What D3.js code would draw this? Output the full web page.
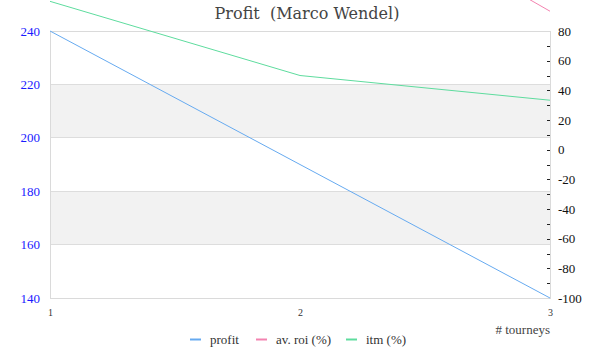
<!DOCTYPE html>
<html><head><meta charset="utf-8">
<script src="https://cdn.jsdelivr.net/npm/d3@7"></script>
<style>body{margin:0;background:#fff}svg{display:block}</style>
</head><body>
<script>
const tourneys = [1, 2, 3];
const profit = [240, 190, 140];
const avRoi = [480, 190, 93.33];
const itm = [100, 50, 33.33];
const leftTicks = [140, 160, 180, 200, 220, 240];
const rightTicks = [-100, -80, -60, -40, -20, 0, 20, 40, 60, 80];
const seriesNames = ["profit", "av. roi (%)", "itm (%)"];
const colors = ["#66aaf0", "#f383b0", "#5edc9e"];

const W = 600, H = 360;
const m = {l: 50, r: 550, t: 31, b: 298};
const font = "'Liberation Serif', 'DejaVu Serif', serif";
const svg = d3.select("body").append("svg").attr("width", W).attr("height", H)
  .style("font-family", font);

const x = d3.scaleLinear().domain([1, 3]).range([m.l, m.r]);
const yL = d3.scaleLinear().domain([140, 240]).range([m.b, m.t]);
const yR = d3.scaleLinear().domain([-100, 80]).range([m.b, m.t]);

// bands
[[160, 180], [200, 220]].forEach(([a, b]) => {
  svg.append("rect").attr("x", m.l).attr("width", m.r - m.l)
    .attr("y", yL(b)).attr("height", yL(a) - yL(b)).attr("fill", "#f2f2f2");
});
// grid lines
svg.append("g").selectAll("line").data([160, 180, 200, 220]).join("line")
  .attr("x1", m.l).attr("x2", m.r).attr("y1", d => yL(d)).attr("y2", d => yL(d))
  .attr("stroke", "#dddddd").attr("stroke-width", 1).attr("shape-rendering", "crispEdges");
// border
svg.append("rect").attr("x", m.l).attr("y", m.t).attr("width", m.r - m.l).attr("height", m.b - m.t)
  .attr("fill", "none").attr("stroke", "#dadada").attr("shape-rendering", "crispEdges");

// left axis
const gL = svg.append("g").attr("transform", `translate(${m.l},0)`)
  .call(d3.axisLeft(yL).tickValues(leftTicks).tickFormat(d => String(d)).tickSize(0).tickPadding(10));
gL.select(".domain").remove();
gL.attr("font-family", null);
gL.selectAll("text").attr("fill", "#1a1aff").style("font-size", "13px").style("font-family", font);

// right axis
const gR = svg.append("g").attr("transform", `translate(${m.r},0)`)
  .call(d3.axisRight(yR).tickValues(rightTicks).tickFormat(d => String(d)).tickSize(0).tickPadding(8));
gR.select(".domain").remove();
gR.attr("font-family", null);
gR.selectAll("text").attr("fill", "#111").style("font-size", "13px").style("font-family", font);
svg.append("g").selectAll("line").data(d3.range(-90, 80, 10)).join("line")
  .attr("x1", m.r - 3).attr("x2", m.r).attr("y1", d => Math.round(yR(d)) + 0.5).attr("y2", d => Math.round(yR(d)) + 0.5)
  .attr("stroke", "#222");

// x axis
const gX = svg.append("g").attr("transform", `translate(0,${m.b})`)
  .call(d3.axisBottom(x).tickValues(tourneys).tickFormat(d => String(d)).tickSize(0).tickPadding(11));
gX.select(".domain").remove();
gX.attr("font-family", null);
gX.selectAll("text").attr("fill", "#333").style("font-size", "10px").style("font-family", font);
svg.append("text").attr("x", m.r).attr("y", 334).attr("text-anchor", "end")
  .attr("fill", "#444").style("font-size", "13px").text("# tourneys");

// lines
const series = [
  {vals: profit, y: yL},
  {vals: avRoi, y: yR},
  {vals: itm, y: yR}
];
series.forEach((s, i) => {
  const line = d3.line().x((d, j) => x(tourneys[j])).y(d => s.y(d));
  svg.append("path").datum(s.vals).attr("d", line).attr("fill", "none")
    .attr("stroke", colors[i]).attr("stroke-width", 1);
});

// title
svg.append("text").attr("x", 307).attr("y", 19).attr("text-anchor", "middle")
  .attr("fill", "#444").style("font-size", "16px").style("font-family", "'DejaVu Serif', serif")
  .style("white-space", "pre").text("Profit  (Marco Wendel)");

// legend
const legX = [190, 256, 346];
const lg = svg.append("g");
seriesNames.forEach((n, i) => {
  lg.append("line").attr("x1", legX[i]).attr("x2", legX[i] + 11).attr("y1", 339.5).attr("y2", 339.5)
    .attr("stroke", colors[i]).attr("stroke-width", 2);
  lg.append("text").attr("x", legX[i] + 20).attr("y", 344).attr("fill", "#333")
    .style("font-size", "13px").text(n);
});
</script>
</body></html>
